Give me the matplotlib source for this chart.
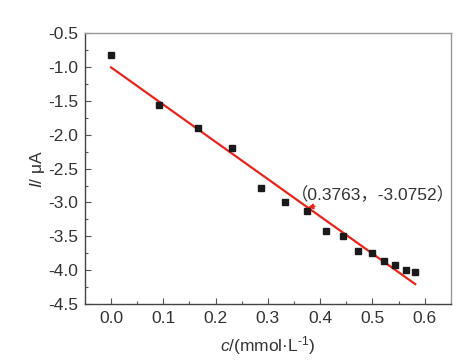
import matplotlib
matplotlib.use("Agg")
import matplotlib.pyplot as plt
from matplotlib.ticker import MultipleLocator

plt.rcParams['font.family'] = ['Liberation Sans', 'Noto Sans CJK SC', 'DejaVu Sans']
plt.rcParams['mathtext.fontset'] = 'custom'
plt.rcParams['mathtext.rm'] = 'Liberation Sans'
plt.rcParams['mathtext.it'] = 'Liberation Sans:italic'

# measured points
conc = [0.0, 0.091, 0.167, 0.231, 0.286, 0.333, 0.374, 0.411, 0.443,
        0.472, 0.499, 0.523, 0.544, 0.564, 0.582]
current = [-0.82, -1.56, -1.90, -2.20, -2.78, -3.00, -3.12, -3.42, -3.50,
           -3.72, -3.74, -3.87, -3.92, -4.00, -4.02]

# linear fit shown in the figure
fit_intercept = -1.005
fit_slope = -5.50
fit_x = [0.0, 0.582]

mark_x, mark_y = 0.3763, -3.0752
mark_label = "（0.3763，-3.0752）"

fig = plt.figure(figsize=(4.72, 3.63), dpi=100)
ax = fig.add_axes([0.180, 0.1625, 0.775, 0.746])

fit_y = [fit_intercept + fit_slope * x for x in fit_x]
ax.plot(fit_x, fit_y, color='#e8241c', lw=1.6, zorder=2)
ax.plot(conc, current, 's', color='#1a1a1a', ms=4.6, zorder=3)

ax.annotate(mark_label, xy=(mark_x, mark_y), xytext=(0.345, -2.89),
            fontsize=12.5, color='#333333', ha='left', va='center',
            arrowprops=dict(arrowstyle='-|>', color='#e8241c', lw=1.0,
                            mutation_scale=8, shrinkA=0, shrinkB=0))

ax.set_xlim(-0.05, 0.65)
ax.set_ylim(-4.5, -0.5)
ax.xaxis.set_major_locator(MultipleLocator(0.1))
ax.xaxis.set_minor_locator(MultipleLocator(0.05))
ax.yaxis.set_major_locator(MultipleLocator(0.5))
ax.yaxis.set_minor_locator(MultipleLocator(0.25))
ax.tick_params(which='both', direction='in', top=False, right=False,
               labelsize=12.5, labelcolor='#333333', color='#555555')
ax.tick_params(which='major', length=4, width=0.8, pad=5)
ax.tick_params(which='minor', length=2, width=0.8)
ax.set_xticklabels([f"{v:.1f}" for v in ax.get_xticks()])
ax.set_yticklabels([f"{v:.1f}" for v in ax.get_yticks()])

for side in ['left', 'bottom']:
    ax.spines[side].set_color('#444444')
    ax.spines[side].set_linewidth(1.0)
for side in ['top', 'right']:
    ax.spines[side].set_color('#999999')
    ax.spines[side].set_linewidth(1.0)

ax.set_xlabel(r"$\mathit{c}$/(mmol·L$^{\text{-1}}$)", fontsize=12.5, color='#333333', labelpad=6)
ax.set_ylabel(r"$\mathit{I}$/ μA", fontsize=12.5, color='#333333', labelpad=1)

plt.savefig("out.png", dpi=100, facecolor='white')
plt.close()
